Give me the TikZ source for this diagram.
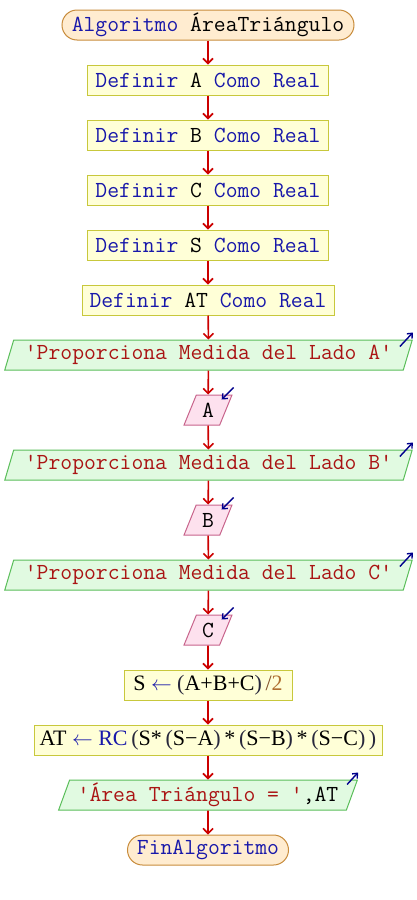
\documentclass[tikz,border=0pt]{standalone}
\usepackage{fontspec}
\newfontfamily\serf{Liberation Serif}
\usetikzlibrary{shapes.geometric,arrows.meta}
\definecolor{kw}{RGB}{24,24,170}
\definecolor{str}{RGB}{170,20,20}
\definecolor{num}{RGB}{176,112,48}
\definecolor{opc}{RGB}{130,80,40}
\definecolor{par}{RGB}{40,40,60}
\definecolor{termF}{RGB}{255,236,208}
\definecolor{termB}{RGB}{200,140,60}
\definecolor{procF}{RGB}{255,255,215}
\definecolor{procB}{RGB}{200,200,60}
\definecolor{outF}{RGB}{225,250,225}
\definecolor{outB}{RGB}{90,190,90}
\definecolor{inF}{RGB}{253,225,238}
\definecolor{inB}{RGB}{200,100,140}
\definecolor{flowR}{RGB}{204,0,0}
\definecolor{iconB}{RGB}{0,0,140}
\begin{document}
\begin{tikzpicture}[x=1pt,y=-1pt,
  base/.style={font=\ttfamily\fontsize{23}{26}\selectfont, inner sep=0pt, minimum height=30pt, line width=1pt},
  term/.style={base, rectangle, draw=termB, fill=termF, rounded corners=15pt},
  proc/.style={base, rectangle, draw=procB, fill=procF},
  expr/.style={proc, font=\serf\fontsize{22}{26}\selectfont},
  outp/.style={base, trapezium, trapezium left angle=66.6, trapezium right angle=113.4, trapezium stretches=true, draw=outB, fill=outF},
  inp/.style={base, trapezium, trapezium left angle=66.6, trapezium right angle=113.4, trapezium stretches=true, draw=inB, fill=inF},
  flow/.style={draw=flowR, line width=1.6pt, -{Straight Barb[length=5pt,width=10pt]}},
  icon/.style={draw=iconB, line width=1.4pt, -{Straight Barb[length=4pt,width=7pt]}}
]
\useasboundingbox (0,0) rectangle (416,900);
\fill[white] (0,0) rectangle (416,900);

\node[term, minimum width=292pt] (start) at (208,25) {\textcolor{kw}{Algoritmo} ÁreaTriángulo};
\node[proc, minimum width=241pt] (da) at (208,80) {\textcolor{kw}{Definir} A \textcolor{kw}{Como Real}};
\node[proc, minimum width=241pt] (db) at (208,135) {\textcolor{kw}{Definir} B \textcolor{kw}{Como Real}};
\node[proc, minimum width=241pt] (dc) at (208,190) {\textcolor{kw}{Definir} C \textcolor{kw}{Como Real}};
\node[proc, minimum width=241pt] (ds) at (208,245) {\textcolor{kw}{Definir} S \textcolor{kw}{Como Real}};
\node[proc, minimum width=252pt] (dat) at (208,300) {\textcolor{kw}{Definir} AT \textcolor{kw}{Como Real}};
\node[outp, minimum width=409pt] (oa) at (208.5,355) {\textcolor{str}{'Proporciona Medida del Lado A'}};
\node[inp, minimum width=48pt] (ia) at (208,410) {A};
\node[outp, minimum width=409pt] (ob) at (208.5,465) {\textcolor{str}{'Proporciona Medida del Lado B'}};
\node[inp, minimum width=48pt] (ib) at (208,520) {B};
\node[outp, minimum width=409pt] (oc) at (208.5,575) {\textcolor{str}{'Proporciona Medida del Lado C'}};
\node[inp, minimum width=48pt] (ic) at (208,630) {C};
\node[expr, minimum width=168pt] (es) at (208,685) {S \textcolor{kw}{$\leftarrow$} \textcolor{par}{(}A+B+C\textcolor{par}{)}\,\textcolor{opc}{/}\textcolor{num}{2}};
\node[expr, minimum width=348pt] (eat) at (208,740) {AT \textcolor{kw}{$\leftarrow$} \textcolor{kw}{RC}\,\textcolor{par}{(}S*\,\textcolor{par}{(}S−A\textcolor{par}{)}\,*\,\textcolor{par}{(}S−B\textcolor{par}{)}\,*\,\textcolor{par}{(}S−C\textcolor{par}{)}\,\textcolor{par}{)}};
\node[outp, minimum width=300pt] (oat) at (208,795) {\textcolor{str}{'Área Triángulo = '},AT};
\node[term, minimum width=161pt] (fin) at (208,850) {\textcolor{kw}{FinAlgoritmo}};

\foreach \a/\b in {start/da, da/db, db/dc, dc/ds, ds/dat, dat/oa, oa/ia, ia/ob, ob/ib, ib/oc, oc/ic, ic/es, es/eat, eat/oat, oat/fin}
  \draw[flow] (\a) -- (\b);

\foreach \o in {oa, ob, oc}
  \draw[icon] ([shift={(-13,7)}]\o.top right corner) -- ([shift={(0,-7)}]\o.top right corner);
\draw[icon] ([shift={(-11,5)}]oat.top right corner) -- ([shift={(0,-7)}]oat.top right corner);
\foreach \i in {ia, ib, ic}
  \draw[icon] ([shift={(1,-7)}]\i.top right corner) -- ([shift={(-11,5)}]\i.top right corner);
\end{tikzpicture}
\end{document}
